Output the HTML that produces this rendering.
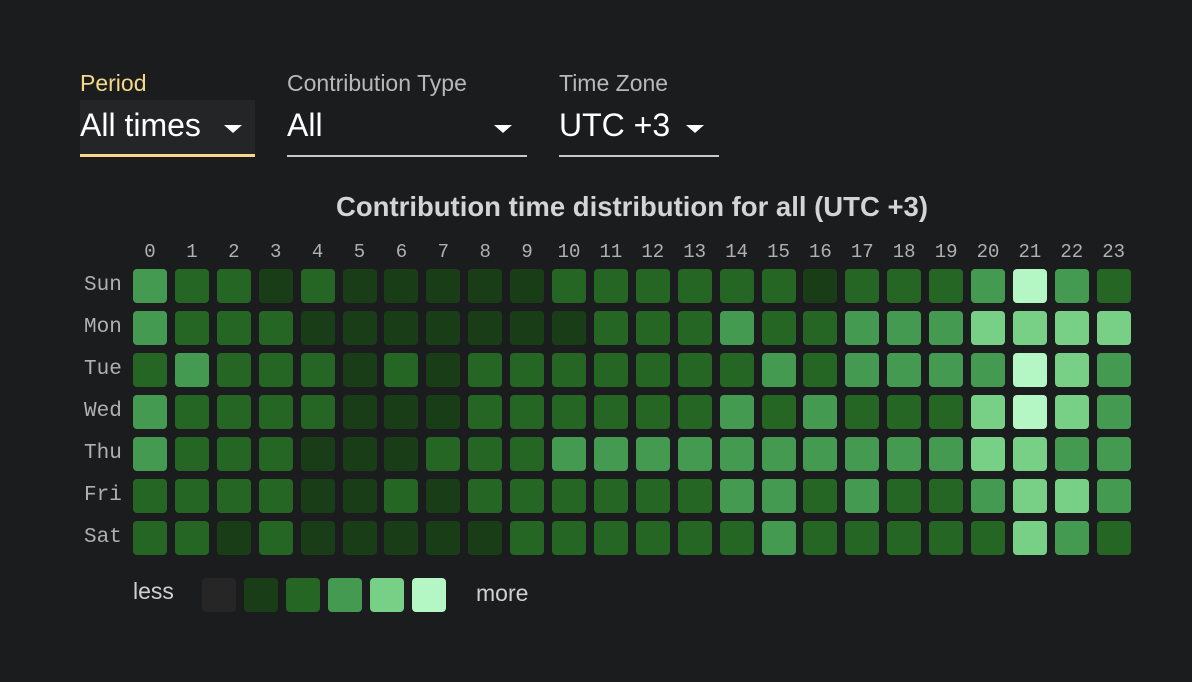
<!DOCTYPE html><html><head><style>
body{margin:0;width:1192px;height:682px;background:#1b1c1e;position:relative;overflow:hidden;font-family:"Liberation Sans",sans-serif}
.a{position:absolute}
.lab{font-size:23px;color:#b8b8b8;top:70px}
.val{font-size:32px;color:#fff;top:107px}
.tri{width:0;height:0;border-left:9px solid transparent;border-right:9px solid transparent;border-top:8px solid #fff;top:125px}
.c{position:absolute;width:34px;height:34px;border-radius:4px}
.h{position:absolute;top:241px;width:34px;text-align:center;font-family:"Liberation Mono",monospace;font-size:19px;color:#b0b0b0}
.d{position:absolute;left:84px;font-family:"Liberation Mono",monospace;font-size:21px;color:#b0b0b0}
</style></head><body>
<div class="a lab" style="left:80px;color:#f5d98a">Period</div>
<div class="a" style="left:80px;top:100px;width:175px;height:54px;background:#242527"></div>
<div class="a" style="left:80px;top:154px;width:175px;height:3px;background:#f5d98a"></div>
<div class="a val" style="left:80px">All times</div>
<div class="a tri" style="left:224px"></div>
<div class="a lab" style="left:287px">Contribution Type</div>
<div class="a val" style="left:287px">All</div>
<div class="a tri" style="left:494px"></div>
<div class="a" style="left:287px;top:155px;width:240px;height:2px;background:#c8c8c8"></div>
<div class="a lab" style="left:559px">Time Zone</div>
<div class="a val" style="left:559px">UTC +3</div>
<div class="a tri" style="left:686px"></div>
<div class="a" style="left:559px;top:155px;width:160px;height:2px;background:#c8c8c8"></div>
<div class="a" style="left:0;width:1264px;top:191px;text-align:center;font-size:27.5px;font-weight:bold;color:#d4d4d4">Contribution time distribution for all (UTC +3)</div>
<div id="g"></div>
<div class="a" style="left:133px;top:578px;font-size:23px;color:#d0d0d0">less</div>
<div class="a" style="left:476px;top:580px;font-size:23px;color:#d0d0d0">more</div>
<script>
var C=["#262626","#193d17","#256625","#459a52","#77d086","#b4f6c4"];
var D=["Sun","Mon","Tue","Wed","Thu","Fri","Sat"];
var L=["322121111122222212223532","322211111112223223334444","232221212222222323333543","322221112222223232224543","322211122233333333334433","222211212222223323223443","221211111222222322222432"];
var h="";
for(var i=0;i<24;i++)h+='<div class="h" style="left:'+(133+i*41.9)+'px">'+i+'</div>';
for(var r=0;r<7;r++){h+='<div class="d" style="top:'+(274+r*42)+'px">'+D[r]+'</div>';
for(var i=0;i<24;i++)h+='<div class="c" style="left:'+(133+i*41.9)+'px;top:'+(269+r*42)+'px;background:'+C[+L[r][i]]+'"></div>';}
for(var k=0;k<6;k++)h+='<div class="c" style="left:'+(202+k*42)+'px;top:578px;background:'+C[k]+'"></div>';
document.getElementById("g").innerHTML=h;
</script>
</body></html>
